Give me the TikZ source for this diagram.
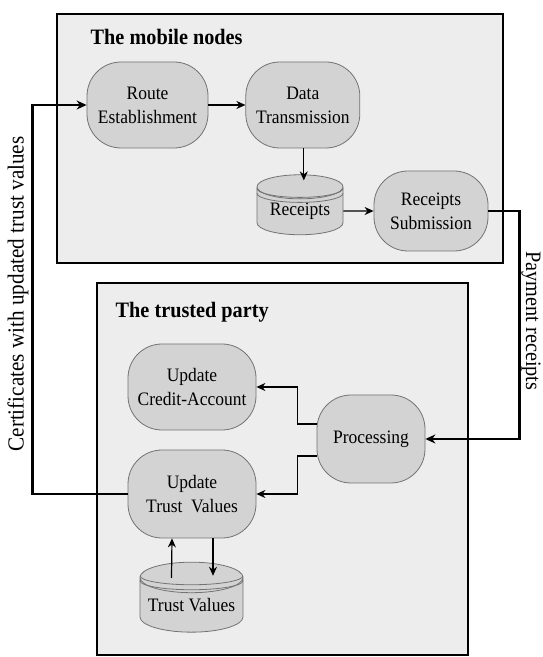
\documentclass[tikz,border=0pt]{standalone}
\usepackage{fontspec}
\setmainfont{Liberation Serif}[FakeStretch=0.92]
\usetikzlibrary{positioning,arrows.meta,shapes.geometric}
\tikzset{>=Stealth}
\definecolor{cPanel}{RGB}{237,237,237}
\definecolor{cStep}{RGB}{211,211,211}
\definecolor{cEdge}{RGB}{115,115,115}

\begin{document}
\begin{tikzpicture}[x=1pt, y=1pt, thick]

% Stiler.
\tikzset{
  panel/.style={rectangle, draw=black, line width=2.4pt, fill=cPanel, inner sep=0pt},
  stepbox/.style={rectangle, rounded corners=34pt, draw=cEdge, line width=0.8pt, fill=cStep,
    align=center, inner sep=0pt, font=\fontsize{19}{24}\selectfont},
  store/.style={cylinder, shape border rotate=90, aspect=0.4, draw=cEdge, line width=0.8pt,
    fill=cStep, inner sep=0pt, font=\fontsize{19}{24}\selectfont},
  band/.style={draw=cEdge, line width=0.8pt},
  heading/.style={anchor=base west, font=\bfseries\fontsize{22}{26}\selectfont},
  flow/.style={->, line width=1.2pt, >={Stealth[length=9pt,width=8pt]}},
  link/.style={->, line width=2.4pt, >={Stealth[length=10pt,width=9pt]}},
  side/.style={font=\fontsize{22}{26}\selectfont}
}

\useasboundingbox (0,0) rectangle (542,657);

% Rammer.
\node (mobile)  [panel, minimum width=446pt, minimum height=249pt] at (280,518.5) {};
\node (trusted) [panel, minimum width=371pt, minimum height=372pt] at (282.5,188) {};
\node (mobtitle) [heading] at (87,612) {The mobile nodes};
\node (trutitle) [heading] at (112,339) {The trusted party};

% Mobile noder.
\node (route) [stepbox, minimum width=121pt, minimum height=86pt] at (147.5,552) {Route\\Establishment};
\node (data)  [stepbox, minimum width=114pt, minimum height=86pt, right=37pt of route] {Data\\Transmission};
\node (rcpt)  [store, minimum width=86pt, minimum height=60pt] at (300,446) {\raisebox{-12pt}{Receipts}};
\node (subm)  [stepbox, minimum width=114pt, minimum height=80pt] at (431,446) {Receipts\\Submission};

% Betrodd part.
\node (credit) [stepbox, minimum width=128pt, minimum height=86pt] at (192,270) {Update\\Credit-Account};
\node (proc)   [stepbox, minimum width=108pt, minimum height=88pt] at (371,218) {Processing};
\node (trust)  [stepbox, minimum width=128pt, minimum height=88pt] at (192,163) {Update\\Trust\ \ Values};
\node (tstore) [store, aspect=0.35, minimum width=103pt, minimum height=70pt] at (191.5,52) {\raisebox{-14pt}{Trust Values}};

% Ekstra ringer under lokket.
\foreach \s/\rx in {rcpt/43, tstore/51.5}
  \foreach \d in {5,10}
    \draw[band] ([xshift=-\rx pt, yshift={-(9+\d)*1pt}]\s.north)
      arc[start angle=180, end angle=360, x radius=\rx, y radius=9];

% Piler.
\draw[flow] (route) -- (data);
\draw[flow] ([xshift=1pt]data.south) -- ([xshift=1pt,yshift=-6pt]data.south |- rcpt.north);
\draw[flow] (rcpt) -- (subm);
\draw[flow] ([yshift=15pt]proc.west) -- ++(-19,0) |- (credit.east);
\draw[flow] ([yshift=-17pt]proc.west) -- ++(-19,0) |- (trust.east);
\draw[flow] ([xshift=-20pt,yshift=-16pt]tstore.north) -- ([xshift=-20pt]trust.south);
\draw[flow] ([xshift=21pt]trust.south) -- ([xshift=21pt,yshift=-14pt]trust.south |- tstore.north);

% Lenker mellom partene.
\draw[link] (subm.east) -- ++(31,0) |- (proc.east);
\draw[link] (trust.west) -- ++(-95,0) |- (route.west);
\node (certs) [side, rotate=90, font=\fontsize{23}{27}\selectfont] at (18,363) {Certificates with updated trust values};
\node (pays)  [side, rotate=-90] at (531,336) {Payment receipts};
\end{tikzpicture}
\end{document}
